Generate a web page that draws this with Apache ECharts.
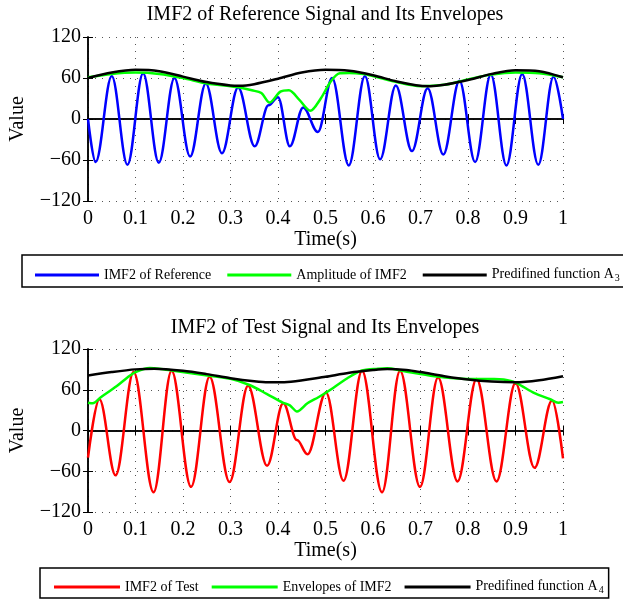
<!DOCTYPE html>
<html>
<head>
<meta charset="utf-8">
<script src="https://cdn.jsdelivr.net/npm/echarts@6/dist/echarts.min.js"></script>
<style>
html, body { margin: 0; padding: 0; background: #fff; }
#main { width: 623px; height: 599px; }
</style>
</head>
<body>
<div id="main"></div>
<script>
// values: [time, value]
var refSignal = [
    [0, 0], [0.016, -63], [0.050, 63], [0.083, -67], [0.116, 67], [0.149, -64],
    [0.182, 60], [0.215, -55], [0.248, 52], [0.282, -50], [0.316, 46], [0.351, -40],
    [0.380, 20], [0.400, 32], [0.425, -40], [0.453, 17], [0.484, -19], [0.514, 60],
    [0.549, -68], [0.583, 63], [0.615, -59], [0.648, 49], [0.682, -47], [0.715, 45],
    [0.748, -52], [0.782, 56], [0.815, -63], [0.848, 65], [0.881, -68], [0.914, 66],
    [0.948, -67], [0.980, 62], [1.0, 0]
];
var refAmplitude = [
    [0, 61], [0.05, 66], [0.1, 68], [0.15, 66], [0.2, 60], [0.25, 52], [0.3, 48],
    [0.32, 46], [0.345, 42], [0.365, 38], [0.382, 24], [0.405, 40], [0.423, 42],
    [0.445, 28], [0.468, 12], [0.49, 30], [0.511, 55], [0.53, 67], [0.55, 67.5],
    [0.58, 66], [0.6, 63], [0.65, 54], [0.7, 48], [0.75, 50], [0.8, 58], [0.85, 65],
    [0.9, 68], [0.95, 67], [1.0, 61]
];
var refPredefined = [
    [0, 60], [0.05, 68], [0.1, 72], [0.15, 70], [0.2, 62], [0.25, 54], [0.3, 49],
    [0.32, 48.5], [0.35, 51], [0.4, 59], [0.45, 68], [0.5, 72], [0.55, 70.5],
    [0.6, 64], [0.65, 55], [0.7, 48.5], [0.72, 48], [0.75, 50], [0.8, 57],
    [0.85, 66], [0.9, 71.5], [0.95, 70], [1.0, 61]
];
var testSignal = [
    [0, -40], [0.024, 46], [0.058, -66], [0.096, 86], [0.138, -91], [0.176, 88],
    [0.217, -83], [0.256, 79], [0.298, -76], [0.337, 66], [0.377, -52], [0.411, 40],
    [0.440, -14], [0.462, -35], [0.501, 56], [0.538, -74], [0.577, 88], [0.619, -91],
    [0.657, 88], [0.699, -83], [0.737, 78], [0.778, -75], [0.818, 76], [0.860, -75],
    [0.900, 70], [0.940, -55], [0.977, 44], [1.0, -41]
];
var testEnvelope = [
    [0, 41], [0.01, 40], [0.027, 49], [0.06, 65], [0.083, 78], [0.1, 86], [0.13, 92],
    [0.15, 91], [0.18, 88], [0.24, 82], [0.3, 76], [0.34, 67], [0.376, 54], [0.41, 41],
    [0.425, 37], [0.44, 28], [0.462, 40], [0.485, 49], [0.504, 57], [0.546, 77],
    [0.575, 88], [0.61, 91], [0.63, 91.5], [0.66, 88], [0.73, 80], [0.8, 76],
    [0.855, 76], [0.875, 75], [0.9, 70.5], [0.94, 55], [0.973, 46], [0.99, 41], [1.0, 42]
];
var testPredefined = [
    [0, 81], [0.05, 86], [0.1, 90], [0.14, 91], [0.2, 88], [0.25, 83], [0.3, 77],
    [0.35, 72.5], [0.38, 71], [0.42, 71.5], [0.48, 77], [0.5, 79], [0.55, 85],
    [0.6, 89], [0.63, 90.5], [0.67, 89], [0.7, 86], [0.75, 80], [0.8, 75],
    [0.85, 72], [0.9, 71], [0.95, 74], [1.0, 80]
];
var titles = ['IMF2 of Reference Signal and Its Envelopes', 'IMF2 of Test Signal and Its Envelopes'];
var topNames = ['IMF2 of Reference', 'Amplitude of IMF2', 'Predifined function A3'];
var bottomNames = ['IMF2 of Test', 'Envelopes of IMF2', 'Predifined function A4'];
var yTicks = [-120, -60, 0, 60, 120];

var FONT = 'Liberation Serif';

function xAxisFor(grid, pos) {
    var main = pos === 'bottom';
    return {
        type: 'value', gridIndex: grid, position: pos,
        min: 0, max: 1, interval: 0.1,
        name: main ? 'Time(s)' : '', nameLocation: 'middle', nameGap: 25,
        nameTextStyle: { color: '#000', fontSize: 20, fontFamily: FONT },
        axisLine: { lineStyle: { color: '#000', width: 1.5 } },
        axisTick: { inside: true, length: 5, lineStyle: { color: '#000' } },
        axisLabel: { show: main, color: '#000', fontSize: 20, fontFamily: FONT, margin: 8 },
        splitLine: { show: main, lineStyle: { color: '#555', type: [1, 6], width: 1 } }
    };
}

function yAxisFor(grid, pos) {
    var main = pos === 'left';
    return {
        type: 'value', gridIndex: grid, position: pos,
        min: yTicks[0], max: yTicks[yTicks.length - 1], interval: 60,
        name: main ? 'Value' : '', nameLocation: 'middle', nameGap: 60,
        nameTextStyle: { color: '#000', fontSize: 20, fontFamily: FONT },
        axisLine: { show: true, lineStyle: { color: '#000', width: 1.5 } },
        axisTick: { show: true, inside: true, length: 5, lineStyle: { color: '#000' } },
        axisLabel: {
            show: main, color: '#000', fontSize: 20, fontFamily: FONT, margin: 7,
            formatter: function (v) { return v < 0 ? '\u2212' + Math.abs(v) : String(v); }
        },
        splitLine: { show: main, lineStyle: { color: '#555', type: [1, 6], width: 1 } }
    };
}

function line(name, data, color, idx, env) {
    return {
        name: name, type: 'line', xAxisIndex: idx * 2, yAxisIndex: idx * 2,
        data: data, symbol: 'none', showSymbol: false,
        smooth: env ? 0.3 : 0.36, smoothMonotone: env ? null : 'x',
        lineStyle: { color: color, width: 2.5 }, itemStyle: { color: color }
    };
}

function legendFor(names, top, left, itemWidth, itemGap, padding) {
    return {
        data: names, top: top, left: left, width: 640, orient: 'horizontal',
        icon: 'rect', itemWidth: itemWidth, itemHeight: 3, itemGap: itemGap, padding: padding,
        borderColor: '#000', borderWidth: 1.5, borderRadius: 0,
        formatter: function (name) {
            if (name.indexOf('Predifined') === 0) {
                return '{a|Predifined function A}{s|' + name.slice(-1) + '}';
            }
            return name;
        },
        textStyle: {
            color: '#000', fontSize: 14, fontFamily: FONT,
            rich: {
                a: { fontSize: 14, lineHeight: 16, verticalAlign: 'top', fontFamily: FONT, color: '#000' },
                s: { fontSize: 10, lineHeight: 10, verticalAlign: 'bottom', padding: [14, 0, 0, 1], fontFamily: FONT, color: '#000' }
            }
        }
    };
}

var chart = echarts.init(document.getElementById('main'), null, { renderer: 'canvas' });

var option = {
    animation: false,
    backgroundColor: '#fff',
    title: [
        { text: titles[0], left: 325, top: 5, textAlign: 'center', padding: 0,
          textStyle: { color: '#000', fontSize: 20, fontWeight: 'normal', fontFamily: FONT } },
        { text: titles[1], left: 325, top: 318, textAlign: 'center', padding: 0,
          textStyle: { color: '#000', fontSize: 20, fontWeight: 'normal', fontFamily: FONT } }
    ],
    grid: [
        { left: 87, top: 37, width: 476, height: 164 },
        { left: 87, top: 349, width: 476, height: 163 }
    ],
    xAxis: [xAxisFor(0, 'bottom'), xAxisFor(0, 'top'), xAxisFor(1, 'bottom'), xAxisFor(1, 'top')],
    yAxis: [yAxisFor(0, 'left'), yAxisFor(0, 'right'), yAxisFor(1, 'left'), yAxisFor(1, 'right')],
    legend: [
        legendFor(topNames, 255, 22, 64, 16, [4, 40, 4, 13]),
        legendFor(bottomNames, 568, 40, 66, 13, [3, 5, 3, 14])
    ],
    series: [
        line(topNames[0], refSignal, '#0000ff', 0, false),
        line(topNames[1], refAmplitude, '#00ff00', 0, true),
        line(topNames[2], refPredefined, '#000000', 0, true),
        line(bottomNames[0], testSignal, '#ff0000', 1, false),
        line(bottomNames[1], testEnvelope, '#00ff00', 1, true),
        line(bottomNames[2], testPredefined, '#000000', 1, true)
    ]
};

chart.setOption(option);
</script>
</body>
</html>
